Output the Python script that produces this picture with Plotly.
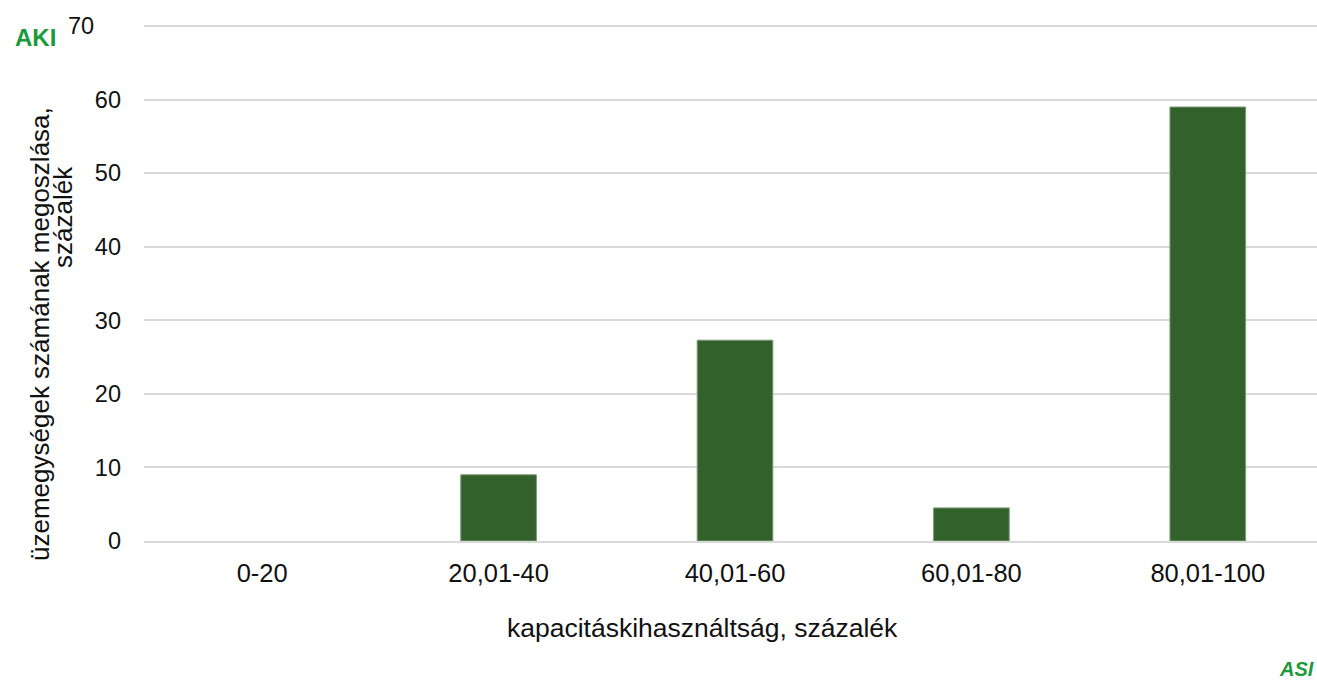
import plotly.graph_objects as go

categories = ["0-20", "20,01-40", "40,01-60", "60,01-80", "80,01-100"]
values = [0, 9.0, 27.3, 4.5, 59.0]
y_ticks = [0, 10, 20, 30, 40, 50, 60, 70]
y_tick_text = ["0", "10", "20", "30", "40", "50", "60", ""]

W, H = 1326, 682
L, R, T, B = 144, 0, 25, 141
font = "Liberation Sans, Arial, sans-serif"
txt = "#111111"

fig = go.Figure()
fig.add_trace(go.Bar(
    x=categories, y=values,
    marker=dict(color="#33612c",
                line=dict(color="#7a9a74", width=[0 if v == 0 else 1 for v in values])),
    width=0.32,
))

fig.update_layout(
    width=W, height=H,
    margin=dict(l=L, r=R, t=T, b=B, autoexpand=False),
    plot_bgcolor="white", paper_bgcolor="white",
    showlegend=False,
    font=dict(family=font, size=24, color=txt),
    xaxis=dict(
        showgrid=False, showline=True, linecolor="#d9d9d9", linewidth=2,
        ticks="", tickfont=dict(size=25.5), ticklabelstandoff=8,
    ),
    yaxis=dict(
        range=[0, 70.15], tickvals=y_ticks, ticktext=y_tick_text,
        showgrid=True, gridcolor="#d9d9d9", gridwidth=2,
        zeroline=False, ticks="", tickfont=dict(size=23.5), ticklabelstandoff=22,
    ),
)

pw = W - L - R
ph = H - T - B
def px(xabs):
    return (xabs - L) / pw
def py(yabs):
    return (H - B - yabs) / ph

# top tick label (displaced in the reference)
fig.add_annotation(text="70", xref="paper", yref="y", x=px(96), y=70,
                   xanchor="right", yanchor="middle", showarrow=False,
                   font=dict(family=font, size=23.5, color=txt))

# axis titles
fig.add_annotation(text="kapacitáskihasználtság, százalék", xref="paper", yref="paper",
                   x=px(702), y=py(628), xanchor="center", yanchor="middle", showarrow=False,
                   font=dict(family=font, size=26.5, color=txt))
fig.add_annotation(text="üzemegységek számának megoszlása,", xref="paper", yref="paper",
                   x=px(40), y=py(334), xanchor="center", yanchor="middle", showarrow=False,
                   textangle=-90, font=dict(family=font, size=26, color=txt))
fig.add_annotation(text="százalék", xref="paper", yref="paper",
                   x=px(63), y=py(217), xanchor="center", yanchor="middle", showarrow=False,
                   textangle=-90, font=dict(family=font, size=26, color=txt))

# logos
fig.add_annotation(text="<b>AKI</b>", xref="paper", yref="paper", x=px(35), y=py(37),
                   xanchor="center", yanchor="middle", showarrow=False,
                   font=dict(family=font, size=24, color="#1a9a3a"))
fig.add_annotation(text="<b><i>ASI</i></b>", xref="paper", yref="paper", x=px(1316), y=py(669),
                   xanchor="right", yanchor="middle", showarrow=False,
                   font=dict(family=font, size=20, color="#1a9a3a"))

fig.write_html("out.html", config={"displayModeBar": False},
               post_script="document.body.style.margin='0';document.body.style.overflow='hidden';")
